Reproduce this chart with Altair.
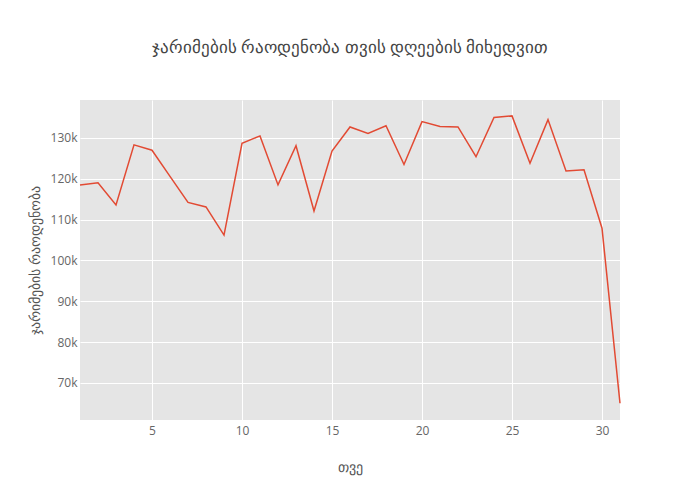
import altair as alt
import pandas as pd

days = list(range(1, 32))
fines = [118.5, 119.0, 113.6, 128.3, 127.0, 120.6, 114.2, 113.1, 106.2, 128.7,
         130.5, 118.5, 128.1, 112.1, 126.8, 132.7, 131.1, 133.0, 123.5, 134.0,
         132.8, 132.7, 125.4, 135.0, 135.4, 123.8, 134.5, 121.9, 122.2, 107.9, 65.0]
fines = [v * 1000 for v in fines]

title_text = "ჯარიმების რაოდენობა თვის დღეების მიხედვით"
x_title = "თვე"
y_title = "ჯარიმების რაოდენობა"

df = pd.DataFrame({"day": days, "fines": fines})

chart = alt.Chart(df).mark_line(color="#E24A33", strokeWidth=1.5).encode(
    x=alt.X("day:Q", title=x_title,
            scale=alt.Scale(domain=[1, 31], nice=False, zero=False),
            axis=alt.Axis(values=[5, 10, 15, 20, 25, 30], labelPadding=5,
                          titlePadding=24)),
    y=alt.Y("fines:Q", title=y_title,
            scale=alt.Scale(domain=[60900, 139300], nice=False, zero=False),
            axis=alt.Axis(values=[70000, 80000, 90000, 100000, 110000, 120000, 130000],
                          format="~s", labelPadding=3, titlePadding=8)),
).properties(
    width=540, height=320,
    title=alt.TitleParams(title_text, fontSize=17, color="#444", fontWeight="normal",
                          font="Open Sans", anchor="middle", offset=43),
    autosize=alt.AutoSizeParams(type="none"),
    padding={"left": 72, "top": 92, "right": 72, "bottom": 72},
).configure_view(
    fill="#E5E5E5", stroke=None
).configure_axis(
    domain=False, ticks=False, grid=True, gridColor="white", gridWidth=1,
    labelFont="Open Sans", labelFontSize=12, labelColor="#666",
    titleFont="Open Sans", titleFontSize=14, titleColor="#555", titleFontWeight="normal",
)

chart.save("out.html", embed_options={"renderer": "svg", "actions": False})
